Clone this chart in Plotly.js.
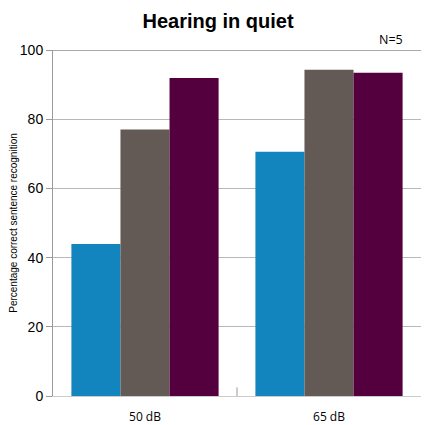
<!DOCTYPE html>
<html><head><meta charset="utf-8">
<script src="https://cdn.plot.ly/plotly-3.0.1.min.js"></script>
<style>html,body{margin:0;padding:0;background:#fff}</style>
</head><body><div id="chart" style="width:436px;height:425px"></div>
<script>
const categories = ["50 dB", "65 dB"];
const seriesA = [43.9, 70.6];
const seriesB = [77.0, 94.3];
const seriesC = [91.9, 93.4];
const yTicks = [0, 20, 40, 60, 80, 100];

const colors = ["#1385be", "#635955", "#54003f"];
const traces = [seriesA, seriesB, seriesC].map((v, i) => ({
  type: "bar", x: categories, y: v, marker: {color: colors[i]}, hoverinfo: "skip", showlegend: false
}));

const layout = {
  width: 436, height: 425,
  margin: {l: 53, r: 15, t: 50, b: 29},
  paper_bgcolor: "#fff", plot_bgcolor: "#fff",
  barmode: "group", bargap: 0.2, bargroupgap: 0,
  title: {text: "<b>Hearing in quiet</b>", font: {family: "Liberation Sans, Arial", size: 20, color: "#000"}, x: 0.5, xanchor: "center", y: 0.95, yanchor: "middle"},
  xaxis: {
    type: "category", showgrid: false, showline: true, linecolor: "#cccccc", linewidth: 1,
    ticks: "", tickfont: {family: "Open Sans, Noto Sans", size: 12, color: "#000"}, ticklabelstandoff: 10
  },
  yaxis: {
    range: [0, 100], tickvals: yTicks, showgrid: true, gridcolor: "#b8b8b8", gridwidth: 1,
    showline: true, linecolor: "#9a9a9a", linewidth: 1, ticks: "outside", ticklen: 6, tickcolor: "#9a9a9a",
    tickfont: {family: "Liberation Sans, Arial", size: 14, color: "#000"}, zeroline: false,
    title: {text: "Percentage correct sentence recognition", font: {family: "Liberation Sans, Arial", size: 10, color: "#000"}, standoff: 0}
  },
  shapes: [
    {type: "line", xref: "paper", yref: "y", x0: 0, x1: 1, y0: 100, y1: 100, line: {color: "#555", width: 1}},
    {type: "line", xref: "x", yref: "paper", x0: 0.5, x1: 0.5, y0: 0, y1: 0.025, line: {color: "#999", width: 1}}
  ],
  annotations: [
    {text: "N=5", xref: "paper", yref: "paper", x: 0.957, y: 1.0, xanchor: "right", yanchor: "bottom", showarrow: false,
     font: {family: "Open Sans, Noto Sans", size: 12.5, color: "#000"}}
  ]
};
Plotly.newPlot("chart", traces, layout, {displayModeBar: false, staticPlot: true});
</script></body></html>
